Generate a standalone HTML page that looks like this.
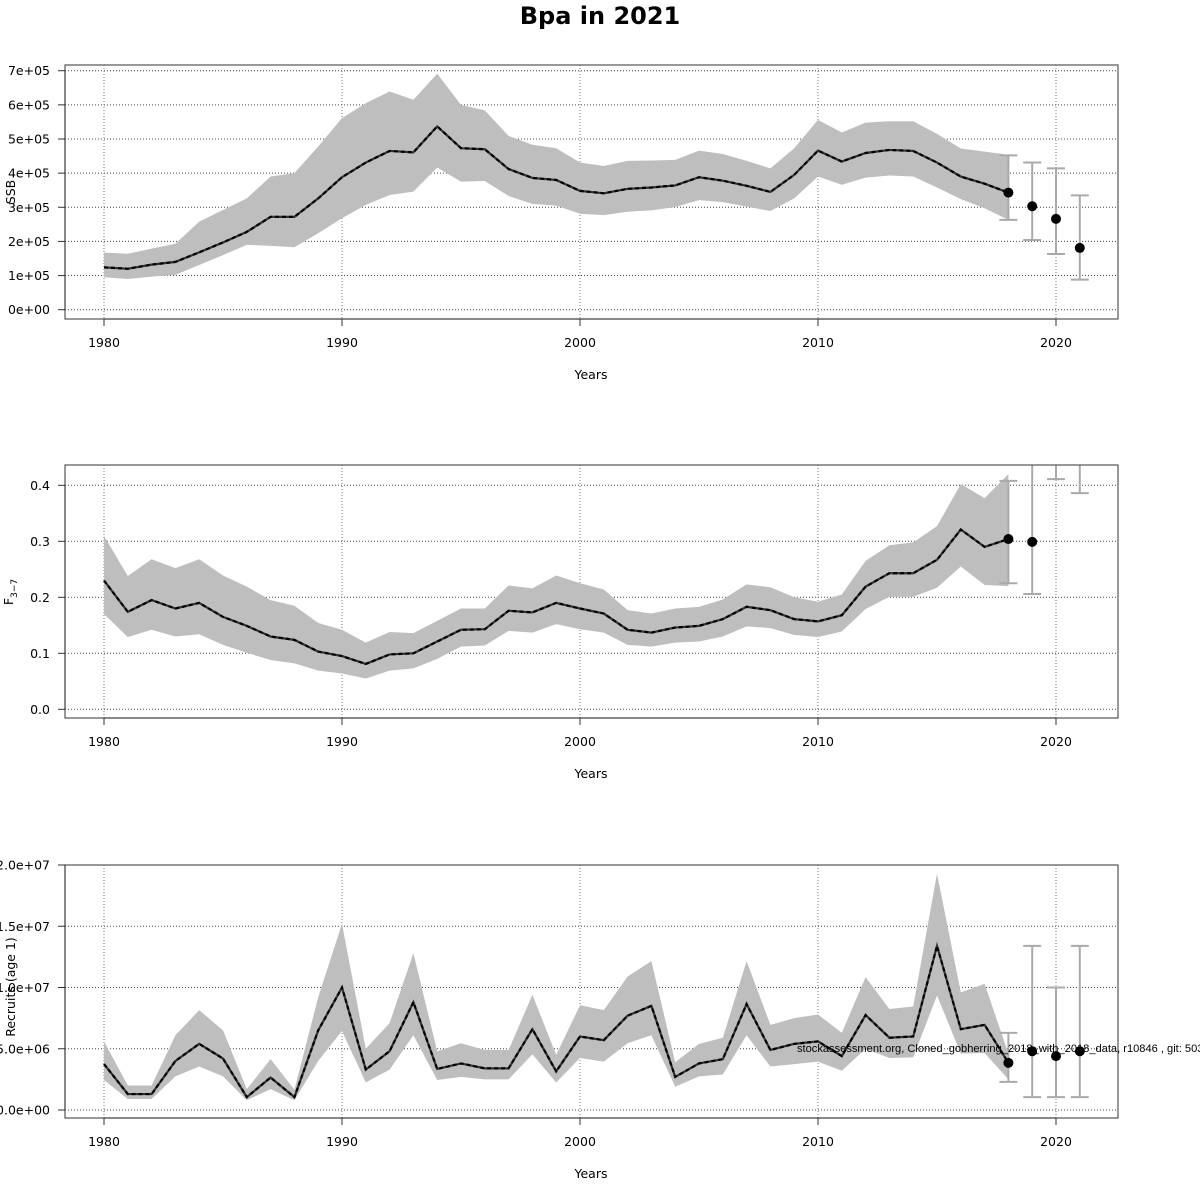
<!DOCTYPE html>
<html><head><meta charset="utf-8"><style>
html,body{margin:0;padding:0;background:#fff;}
svg{display:block;font-family:"DejaVu Sans","Liberation Sans",sans-serif;}
</style></head><body>
<svg id="chart" width="1200" height="1200" viewBox="0 0 1200 1200" xmlns="http://www.w3.org/2000/svg">
<text x="600" y="24" text-anchor="middle" font-size="24" font-weight="bold">Bpa in 2021</text>
</svg>
<script>
// ---- data ----
const years = [];
for (let y = 1980; y <= 2018; y++) years.push(y);
const fcYears = [2018, 2019, 2020, 2021];

const ssbMid = [1.24,1.20,1.32,1.40,1.68,1.97,2.28,2.72,2.72,3.26,3.88,4.31,4.65,4.61,5.37,4.73,4.70,4.12,3.86,3.80,3.48,3.41,3.54,3.58,3.64,3.88,3.78,3.63,3.45,3.95,4.66,4.34,4.59,4.68,4.65,4.31,3.90,3.69,3.43];
const ssbHi = [1.67,1.64,1.79,1.93,2.58,2.92,3.26,3.90,4.00,4.78,5.61,6.05,6.39,6.15,6.91,6.00,5.84,5.09,4.83,4.73,4.31,4.21,4.36,4.37,4.39,4.66,4.56,4.36,4.14,4.73,5.56,5.19,5.48,5.52,5.52,5.15,4.72,4.63,4.54];
const ssbLo = [0.95,0.90,0.97,1.02,1.31,1.60,1.90,1.87,1.83,2.24,2.68,3.07,3.36,3.46,4.16,3.75,3.77,3.33,3.10,3.05,2.81,2.77,2.87,2.91,3.01,3.21,3.15,3.02,2.89,3.26,3.90,3.66,3.87,3.93,3.90,3.58,3.24,2.97,2.63];
const ssbFc = [3.43,3.03,2.66,1.81];
const ssbFcHi = [4.52,4.31,4.14,3.35];
const ssbFcLo = [2.63,2.04,1.63,0.88];

const fMid = [0.230,0.174,0.195,0.180,0.190,0.165,0.149,0.130,0.124,0.103,0.095,0.081,0.098,0.100,0.121,0.142,0.143,0.176,0.173,0.190,0.180,0.171,0.142,0.137,0.146,0.149,0.161,0.183,0.177,0.161,0.157,0.168,0.219,0.243,0.243,0.267,0.321,0.290,0.304];
const fHi = [0.310,0.238,0.268,0.252,0.268,0.239,0.219,0.195,0.185,0.154,0.142,0.119,0.138,0.136,0.158,0.180,0.180,0.221,0.216,0.239,0.225,0.214,0.177,0.171,0.180,0.183,0.196,0.223,0.218,0.200,0.192,0.205,0.265,0.293,0.298,0.327,0.402,0.377,0.420];
const fLo = [0.170,0.129,0.142,0.130,0.134,0.115,0.101,0.088,0.082,0.069,0.064,0.055,0.069,0.073,0.090,0.112,0.114,0.140,0.137,0.152,0.143,0.137,0.115,0.112,0.119,0.121,0.130,0.148,0.145,0.133,0.129,0.139,0.179,0.201,0.201,0.217,0.255,0.222,0.220];
const fFc = [0.304,0.299,0.60,0.55];
const fFcHi = [0.408,0.80,0.80,0.80];
const fFcLo = [0.225,0.206,0.411,0.386];

const recMid = [3.75,1.3,1.3,4.0,5.4,4.2,1.05,2.65,1.05,6.5,10.0,3.3,4.8,8.8,3.35,3.8,3.4,3.4,6.6,3.15,6.0,5.7,7.7,8.5,2.7,3.8,4.15,8.65,4.9,5.4,5.6,4.4,7.75,5.9,6.0,13.4,6.6,6.95,3.85];
const recHi = [5.6,2.0,2.0,6.1,8.15,6.5,1.7,4.15,1.65,9.2,15.2,5.0,7.1,12.8,4.8,5.45,4.9,4.9,9.4,4.5,8.55,8.15,10.9,12.15,3.9,5.4,5.9,12.15,6.95,7.5,7.8,6.3,10.85,8.25,8.45,19.3,9.6,10.3,4.6];
const recLo = [2.45,0.9,0.9,2.75,3.55,2.75,0.8,1.7,0.8,4.0,6.45,2.25,3.3,6.1,2.45,2.7,2.5,2.5,4.55,2.25,4.25,3.95,5.45,6.1,1.9,2.75,2.9,6.1,3.55,3.75,3.95,3.2,5.0,4.25,4.3,9.35,4.6,4.65,2.5];
const recFc = [3.85,4.8,4.4,4.8];
const recFcHi = [6.3,13.4,10.0,13.4];
const recFcLo = [2.3,1.05,1.05,1.05];

const xTicks = [1980,1990,2000,2010,2020];
const ssbTicks = [0,1,2,3,4,5,6,7];
const ssbTickLabels = ["0e+00","1e+05","2e+05","3e+05","4e+05","5e+05","6e+05","7e+05"];
const fTicks = [0,0.1,0.2,0.3,0.4];
const fTickLabels = ["0.0","0.1","0.2","0.3","0.4"];
const recTicks = [0,5,10,15,20];
const recTickLabels = ["0.0e+00","5.0e+06","1.0e+07","1.5e+07","2.0e+07"];

// ---- drawing ----
const NS = "http://www.w3.org/2000/svg";
const svg = document.getElementById('chart');
const X0 = 65, X1 = 1118;
function xs(yr){ return 104 + (yr - 1980) * 23.8; }
function mk(tag, attrs, parent){
  const e = document.createElementNS(NS, tag);
  for (const k in attrs) e.setAttribute(k, attrs[k]);
  (parent || svg).appendChild(e);
  return e;
}

function panel(cfg, idx){
  const g = mk('g', {});
  
  
  const ys = v => cfg.y0 - v * cfg.k;
  const cid = 'clip' + idx;
  const cp = mk('clipPath', {id: cid}, g);
  mk('rect', {x: X0, y: cfg.top, width: X1 - X0, height: cfg.bot - cfg.top}, cp);

  const grid = mk('g', {}, g);
  
  
  cfg.ticks.forEach(t => {
    mk('line', {x1: X0, x2: X1, y1: ys(t), y2: ys(t), stroke: '#444', 'stroke-width': 1, 'stroke-dasharray': '1,2'}, grid);
  });
  xTicks.forEach(t => {
    mk('line', {x1: xs(t), x2: xs(t), y1: cfg.top, y2: cfg.bot, stroke: '#777', 'stroke-width': 1, 'stroke-dasharray': '1,2'}, grid);
  });

  const plot = mk('g', {'clip-path': 'url(#' + cid + ')'}, g);
  let pts = years.map((yr, i) => xs(yr) + ',' + ys(cfg.hi[i]));
  for (let i = years.length - 1; i >= 0; i--) pts.push(xs(years[i]) + ',' + ys(cfg.lo[i]));
  const band = mk('polygon', {points: pts.join(' '), fill: '#bebebe', stroke: 'none'}, plot);
  
  
  const lp = years.map((yr, i) => xs(yr) + ',' + ys(cfg.mid[i])).join(' ');
  const l1 = mk('polyline', {points: lp, fill: 'none', stroke: '#333', 'stroke-width': 2.2}, plot);
  
  
  mk('polyline', {points: lp, fill: 'none', stroke: '#000', 'stroke-width': 2.2, 'stroke-dasharray': '4,3'}, plot);

  fcYears.forEach((yr, i) => {
    const x = xs(yr);
    const eb = mk('g', {stroke: '#aaa', 'stroke-width': 2}, plot);
    
    
    mk('line', {x1: x, x2: x, y1: ys(cfg.fcHi[i]), y2: ys(cfg.fcLo[i])}, eb);
    mk('line', {x1: x - 9, x2: x + 9, y1: ys(cfg.fcHi[i]), y2: ys(cfg.fcHi[i])}, eb);
    mk('line', {x1: x - 9, x2: x + 9, y1: ys(cfg.fcLo[i]), y2: ys(cfg.fcLo[i])}, eb);
  });
  fcYears.forEach((yr, i) => {
    const c = mk('circle', {cx: xs(yr), cy: ys(cfg.fc[i]), r: 5, fill: '#000'}, plot);
    
    
  });

  mk('rect', {x: X0, y: cfg.top, width: X1 - X0, height: cfg.bot - cfg.top, fill: 'none', stroke: '#555', 'stroke-width': 1.2}, g);

  const ya = mk('g', {}, g);
  
  
  mk('line', {x1: X0, x2: X0, y1: ys(cfg.ticks[0]), y2: ys(cfg.ticks[cfg.ticks.length - 1]), stroke: '#333'}, ya);
  cfg.ticks.forEach((t, i) => {
    mk('line', {x1: 58, x2: X0, y1: ys(t), y2: ys(t), stroke: '#333'}, ya);
    const tx = mk('text', {x: 50, y: ys(t) + 4.5, 'text-anchor': 'end', 'font-size': 12.5}, ya);
    tx.textContent = cfg.labels[i];
  });
  const xa = mk('g', {}, g);
  
  
  mk('line', {x1: xs(1980), x2: xs(2020), y1: cfg.bot, y2: cfg.bot, stroke: '#333'}, xa);
  xTicks.forEach(t => {
    mk('line', {x1: xs(t), x2: xs(t), y1: cfg.bot, y2: cfg.bot + 7, stroke: '#333'}, xa);
    const tx = mk('text', {x: xs(t), y: cfg.bot + 28, 'text-anchor': 'middle', 'font-size': 12.5}, xa);
    tx.textContent = t;
  });
  const xt = mk('text', {x: 591, y: cfg.bot + 60, 'text-anchor': 'middle', 'font-size': 12.5}, g);
  
  
  xt.textContent = 'Years';
  return {g, ys};
}

const p1 = panel({name: 'ssb', top: 65, bot: 319, y0: 309.7, k: 34.14, ticks: ssbTicks, labels: ssbTickLabels, mid: ssbMid, hi: ssbHi, lo: ssbLo, fc: ssbFc, fcHi: ssbFcHi, fcLo: ssbFcLo}, 1);
const p2 = panel({name: 'fishing-mortality', top: 465, bot: 718, y0: 709.3, k: 560, ticks: fTicks, labels: fTickLabels, mid: fMid, hi: fHi, lo: fLo, fc: fFc, fcHi: fFcHi, fcLo: fFcLo}, 2);
const p3 = panel({name: 'recruits', top: 865, bot: 1118, y0: 1110, k: 12.25, ticks: recTicks, labels: recTickLabels, mid: recMid, hi: recHi, lo: recLo, fc: recFc, fcHi: recFcHi, fcLo: recFcLo}, 3);

const t1 = mk('text', {x: 15, y: 192, transform: 'rotate(-90 15 192)', 'text-anchor': 'middle', 'font-size': 12.5});


t1.textContent = 'SSB';
const t2 = mk('text', {x: 13, y: 592, transform: 'rotate(-90 13 592)', 'text-anchor': 'middle', 'font-size': 12.5});


t2.textContent = 'F';
const sub = mk('tspan', {'font-size': 9, dy: 4}, t2);
sub.textContent = '3\u22127';
const t3 = mk('text', {x: 15, y: 987, transform: 'rotate(-90 15 987)', 'text-anchor': 'middle', 'font-size': 12.5});


t3.textContent = 'Recruits (age 1)';

const note = mk('text', {x: 797, y: 1052, 'font-size': 11.1, 'font-family': '"Liberation Sans", sans-serif'});


note.textContent = 'stockassessment.org, Cloned_gobherring_2018_with_2018_data, r10846 , git: 503c0ad';
</script>
</body></html>
